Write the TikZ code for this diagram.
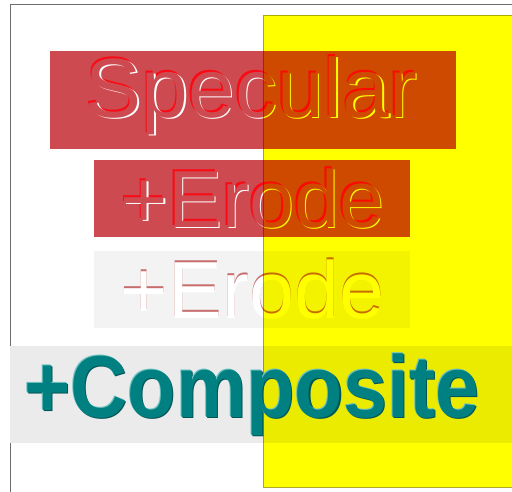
\documentclass[tikz,border=0pt]{standalone}
\usepackage{fontspec}
\setmainfont{Liberation Sans}
\usepackage{graphicx}
\usetikzlibrary{positioning}
\definecolor{boxred}{RGB}{205,74,80}
\definecolor{edgered}{RGB}{250,10,20}
\definecolor{ghostgray}{RGB}{243,243,243}
\definecolor{bandgray}{RGB}{235,235,235}
\definecolor{framegray}{RGB}{110,110,110}
\definecolor{hiyellow}{RGB}{255,255,0}
\definecolor{yellowedge}{RGB}{175,170,40}
\definecolor{compteal}{RGB}{0,128,128}
\definecolor{tealdark}{RGB}{0,85,85}
\definecolor{teallight}{RGB}{110,195,195}

\begin{document}
\begin{tikzpicture}[x=1pt, y=-1pt,
  every node/.style={inner sep=0pt, outer sep=0pt},
  panel/.style={rectangle, minimum width=#1},
  redpanel/.style={panel=#1, fill=boxred},
  word/.style={anchor=base, font=\fontsize{84}{84}\selectfont},
  erodeword/.style={anchor=base, font=\fontsize{81}{81}\selectfont},
  compword/.style={anchor=base, font=\fontsize{88}{88}\selectfont\bfseries}
]
\useasboundingbox (0,0) rectangle (512,491);
\clip (0,0) rectangle (512,491);
\fill[white] (0,0) rectangle (512,491);
% Frame
\draw[framegray, line width=1pt] (10,4) rectangle (530,510);
% Specular
\node[redpanel=406pt, minimum height=98pt] (specbox) at (253,100) {};
\node[word, text=edgered] (specred) at (250,115.5) {Specular};
\node[word, text=white] (specwhite) at (253,118.5) {Specular};
\node[word, text=boxred] (spec) at (251.5,117) {Specular};
% +Erode, red panel
\node[redpanel=316pt, minimum height=77pt] (erodebox) at (252,198.5) {};
\node[erodeword, text=edgered] (erodered) at (251,225.5) {+Erode};
\node[erodeword, text=white] (erodewhite) at (254,228.5) {+Erode};
\node[erodeword, text=boxred] (erode) at (252.5,227) {+Erode};
% +Erode, ghost panel
\node[panel=316pt, minimum height=77pt, fill=ghostgray] (ghostbox) at (252,289.5) {};
\node[erodeword, text=red!65!black, opacity=0.55] (ghostred) at (252.5,316.2) {+Erode};
\node[erodeword, text=white] (ghost) at (252.5,318) {+Erode};
% Composite band
\node[panel=520pt, minimum height=97pt, fill=bandgray] (band) at (270,394.5) {};
% Yellow sheet, multiplied over everything below
\node[panel=270pt, minimum height=472pt, fill=hiyellow, draw=yellowedge, line width=0.8pt, blend mode=multiply] (sheet) at (398,251) {};
% +Composite on top
\node[compword, text=tealdark] (compshade) at (253.2,418.2) {\scalebox{0.9}[1]{+Composite}};
\node[compword, text=teallight] (comphigh) at (251,416) {\scalebox{0.9}[1]{+Composite}};
\node[compword, text=compteal] (comp) at (252,417) {\scalebox{0.9}[1]{+Composite}};
\end{tikzpicture}
\end{document}
